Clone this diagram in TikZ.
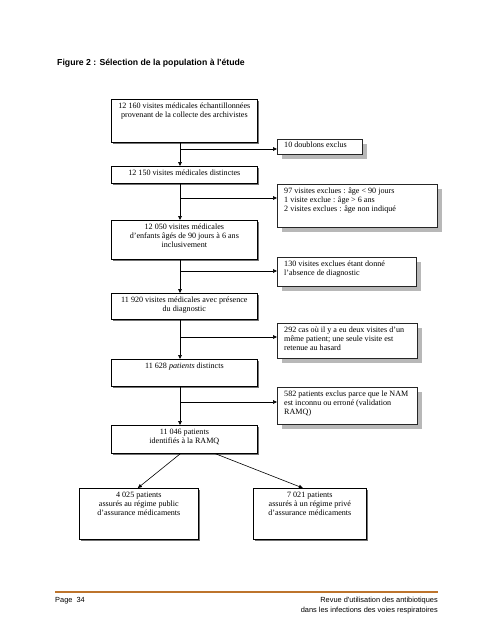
\documentclass[tikz,border=0pt]{standalone}
\usepackage{fontspec}
\setmainfont{Liberation Serif}
\newfontfamily\arialfont{Liberation Sans}
\usetikzlibrary{arrows.meta,shadows}
\definecolor{footrule}{RGB}{189,116,44}
\begin{document}
\begin{tikzpicture}[x=1pt,y=-1pt,
  mainbox/.style={draw=black, line width=0.7pt, fill=white, inner sep=0pt, anchor=north west,
    drop shadow={shadow xshift=1.5pt, shadow yshift=-1.5pt, fill=black!55, opacity=1}},
  sidebox/.style={draw=black!85, line width=0.7pt, fill=white, inner sep=0pt, anchor=north west,
    drop shadow={shadow xshift=5pt, shadow yshift=-5pt, fill=black!28, opacity=1}},
  mtxt/.style={font=\fontsize{8.1}{9}\selectfont, align=center, inner sep=1pt, anchor=north},
  stxt/.style={font=\fontsize{8.1}{8.8}\selectfont, align=left, inner sep=1pt, anchor=north west},
  arr/.style={line width=0.6pt, -{Triangle[length=4pt,width=3.6pt]}},
  foottxt/.style={font=\arialfont\fontsize{7.4}{9.5}\selectfont, inner sep=0pt}
]
\useasboundingbox (0,0) rectangle (495,640);

% title
\node[font=\arialfont\bfseries\fontsize{8.7}{10}\selectfont, anchor=west, inner sep=0pt] (title) at (57,63)
  {Figure 2 : Sélection de la population à l'étude};

% main column boxes
\node[mainbox, minimum width=146pt, minimum height=43pt] (b1) at (111,99) {};
\node[mainbox, minimum width=146pt, minimum height=17pt] (b2) at (111,166) {};
\node[mainbox, minimum width=146pt, minimum height=39pt] (b3) at (111,220) {};
\node[mainbox, minimum width=146pt, minimum height=26pt] (b4) at (111,293) {};
\node[mainbox, minimum width=146pt, minimum height=27pt] (b5) at (111,359) {};
\node[mainbox, minimum width=146pt, minimum height=28pt] (b6) at (111,425) {};
\node[mainbox, minimum width=119pt, minimum height=51pt] (l1) at (79,488) {};
\node[mainbox, minimum width=113pt, minimum height=51pt] (l2) at (253,488) {};

% side boxes
\node[sidebox, minimum width=85pt, minimum height=15pt] (r1) at (277,139) {};
\node[sidebox, minimum width=160pt, minimum height=43pt] (r2) at (277,184) {};
\node[sidebox, minimum width=139pt, minimum height=29pt] (r3) at (277,257) {};
\node[sidebox, minimum width=140pt, minimum height=35pt] (r4) at (277,323) {};
\node[sidebox, minimum width=140pt, minimum height=37pt] (r5) at (277,387) {};

% main texts
\node[mtxt] (t1) at ([yshift=-3pt]b1.north) {12 160 visites médicales échantillonnées\\provenant de la collecte des archivistes};
\node[mtxt] (t2) at ([yshift=-3pt]b2.north) {12 150 visites médicales distinctes};
\node[mtxt] (t3) at ([yshift=-3pt]b3.north) {12 050 visites médicales\\d'enfants âgés de 90 jours à 6 ans\\inclusivement};
\node[mtxt] (t4) at ([yshift=-3pt]b4.north) {11 920 visites médicales avec présence\\du diagnostic};
\node[mtxt] (t5) at ([yshift=-3pt]b5.north) {11 628 \textit{patients} distincts};
\node[mtxt] (t6) at ([yshift=-3pt]b6.north) {11 046 patients\\identifiés à la RAMQ};
\node[mtxt] (tl1) at ([yshift=-3pt]l1.north) {4 025 patients\\assurés au régime public\\d'assurance médicaments};
\node[mtxt] (tl2) at ([yshift=-3pt]l2.north) {7 021 patients\\assurés à un régime privé\\d'assurance médicaments};

% side texts
\node[stxt] (s1) at ([shift={(6pt,-2pt)}]r1.north west) {10 doublons exclus};
\node[stxt] (s2) at ([shift={(6pt,-3pt)}]r2.north west) {97 visites exclues : âge < 90 jours\\1 visite exclue : âge > 6 ans\\2 visites exclues : âge non indiqué};
\node[stxt] (s3) at ([shift={(6pt,-3pt)}]r3.north west) {130 visites exclues étant donné\\l'absence de diagnostic};
\node[stxt] (s4) at ([shift={(6pt,-3pt)}]r4.north west) {292 cas où il y a eu deux visites d'un\\même patient; une seule visite est\\retenue au hasard};
\node[stxt] (s5) at ([shift={(6pt,-3pt)}]r5.north west) {582 patients exclus parce que le NAM\\est inconnu ou erroné (validation\\RAMQ)};

% junctions
\coordinate (j1) at (180,149);
\coordinate (j2) at (180,198);
\coordinate (j3) at (180,271);
\coordinate (j4) at (180,337);
\coordinate (j5) at (180,402);

% vertical arrows
\draw[arr] (b1.south -| j1) -- (b2.north -| j1);
\draw[arr] (b2.south -| j2) -- (b3.north -| j2);
\draw[arr] (b3.south -| j3) -- (b4.north -| j3);
\draw[arr] (b4.south -| j4) -- (b5.north -| j4);
\draw[arr] (b5.south -| j5) -- (b6.north -| j5);

% side arrows
\draw[arr] (j1) -- (j1 -| r1.west);
\draw[arr] (j2) -- (j2 -| r2.west);
\draw[arr] (j3) -- (j3 -| r3.west);
\draw[arr] (j4) -- (j4 -| r4.west);
\draw[arr] (j5) -- (j5 -| r5.west);

% diagonal arrows
\draw[arr] ([xshift=-4pt]b6.south) -- ([xshift=-1pt]l1.north);
\draw[arr] ([xshift=31pt]b6.south) -- ([xshift=-7pt]l2.north);

% footer
\coordinate (fl) at (55,592);
\coordinate (fr) at (438,592);
\draw[footrule, line width=2.6pt] (fl) -- (fr);
\node[foottxt, anchor=north west] (pg) at (55,597) {Page\ \ 34};
\node[foottxt, anchor=north east, align=right] (ft) at (438,597) {Revue d'utilisation des antibiotiques\\dans les infections des voies respiratoires};
\end{tikzpicture}
\end{document}
